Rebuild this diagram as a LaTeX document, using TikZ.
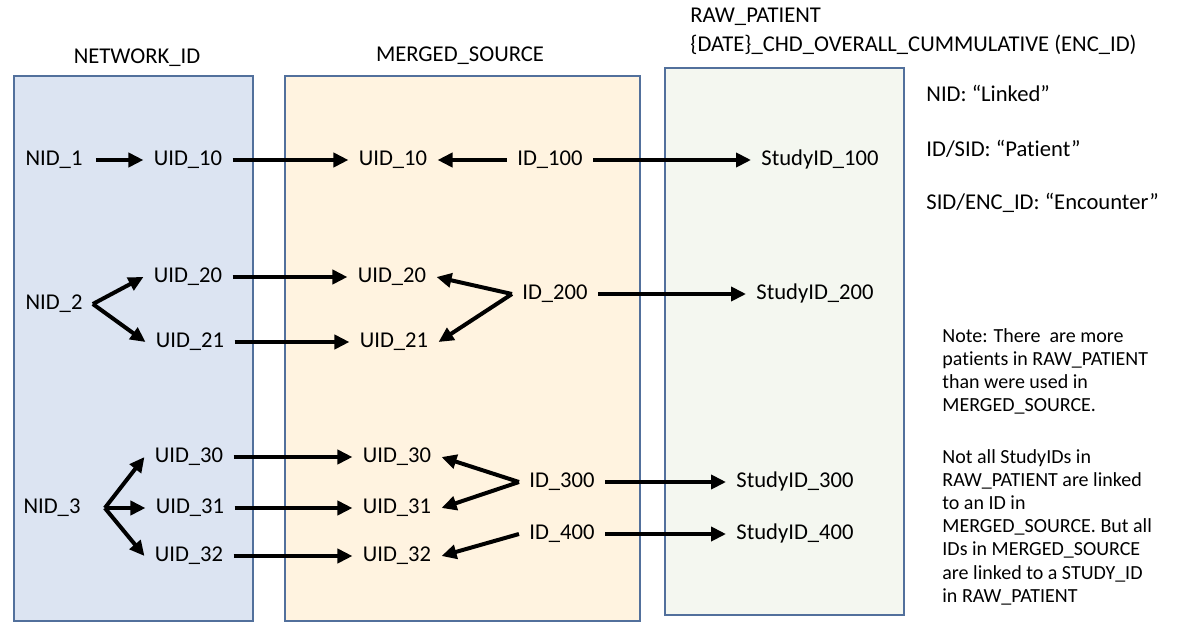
\documentclass[tikz,border=0pt]{standalone}
\usepackage{fontspec}
\setmainfont{Carlito}[Ligatures={NoCommon,NoContextual,NoRare}]
\usetikzlibrary{arrows.meta}

\definecolor{netfill}{HTML}{DCE4F2}
\definecolor{mergefill}{HTML}{FFF3E0}
\definecolor{rawfill}{HTML}{F4F7F0}
\definecolor{boxline}{HTML}{52709C}

\tikzset{
  idnode/.style={inner xsep=5pt, inner ysep=2pt, text height=1.6ex, text depth=0.5ex, font=\fontsize{11.3}{13.5}\selectfont},
  link/.style={line width=2pt, -{Triangle[length=7.5pt,width=7pt]}},
  table/.style={draw=boxline, line width=0.75pt}
}

\begin{document}
\begin{tikzpicture}[x=0.5pt, y=-0.5pt]
	\useasboundingbox (0,0) rectangle (1178,632);
	% tables
	\filldraw[table, fill=netfill] (14,76) rectangle (253,621);
	\filldraw[table, fill=mergefill] (285,76) rectangle (640,621);
	\filldraw[table, fill=rawfill] (665,68) rectangle (904,615);
	
	\node[idnode] (hnet) at (137,58) {NETWORK\_ID};
	\node[idnode] (hmerge) at (460,56) {MERGED\_SOURCE};
	\node[idnode, anchor=west, inner xsep=0pt, align=left] (hraw) at (690,17) {RAW\_PATIENT};
	\node[idnode, anchor=west, inner xsep=0pt] (hraw2) at (690,46) {\{DATE\}\_CHD\_OVERALL\_CUMMULATIVE (ENC\_ID)};
	
	% NETWORK_ID
	\node[idnode, inner xsep=6.5pt] (nid1) at (54,160) {NID\_1};
	\node[idnode] (nid2) at (54,304) {NID\_2};
	\node[idnode, inner xsep=12pt] (nid3) at (52,508) {NID\_3};
	\foreach \n/\x/\y in {10/188/160, 20/188/277, 21/190/342, 30/189/457, 31/190/508, 32/189/556}
		\node[idnode] (uid\n) at (\x,\y) {UID\_\n};
	
	% MERGED_SOURCE
	\foreach \n/\x/\y in {10/393/160, 20/392/277, 21/394/342, 30/397/457, 31/397/508, 32/397/556}
		\node[idnode] (muid\n) at (\x,\y) {UID\_\n};
	\node[idnode] (id100) at (550,160) {ID\_100};
	\node[idnode] (id200) at (555,294) {ID\_200};
	\node[idnode] (id300) at (562,482) {ID\_300};
	\node[idnode] (id400) at (562,534) {ID\_400};
	
	% RAW_PATIENT
	\node[idnode] (sid100) at (820,160) {StudyID\_100};
	\node[idnode] (sid200) at (815,294) {StudyID\_200};
	\node[idnode] (sid300) at (795,482) {StudyID\_300};
	\node[idnode] (sid400) at (795,534) {StudyID\_400};
	
	% links
	\draw[link] (nid1.east) -- (uid10.west);
	\foreach \n in {20, 21}
		\draw[link] (nid2.east) -- (uid\n.west);
	\foreach \n in {30, 31, 32}
		\draw[link] (nid3.east) -- (uid\n.west);
	\foreach \n in {10, 20, 21, 30, 31, 32}
		\draw[link] (uid\n.east) -- (muid\n.west);
	\draw[link] (id100.west) -- (muid10.east);
	\draw[link] (id200.west) -- (muid20.east);
	\draw[link] (id200.west) -- (muid21.east);
	\draw[link] (id300.west) -- (muid30.east);
	\draw[link] (id300.west) -- (muid31.east);
	\draw[link] (id400.west) -- (muid32.east);
	\foreach \n in {100, 200, 300, 400}
		\draw[link] (id\n.east) -- (sid\n.west);
	
	% legend
	\node[idnode, anchor=west, inner xsep=0pt] (lnid) at (926,96) {NID: “Linked”};
	\node[idnode, anchor=west, inner xsep=0pt] (lsid) at (926,151) {ID/SID: “Patient”};
	\node[idnode, anchor=west, inner xsep=0pt] (lenc) at (926,204) {SID/ENC\_ID: “Encounter”};
	\node[anchor=north west, inner sep=0pt, align=left, font=\fontsize{10}{11.6}\selectfont] (note) at (942,328)
		{Note: There\ \ are more\\ pat\kern0pt ients in RAW\_PATIENT\\ than were used in\\ MERGED\_SOURCE.\\[14pt]
		 Not all StudyIDs in\\ RAW\_PATIENT are linked\\ to an ID in\\ MERGED\_SOURCE. But all\\ IDs in MERGED\_SOURCE\\ are linked to a STUDY\_ID\\ in RAW\_PATIENT};
\end{tikzpicture}
\end{document}
